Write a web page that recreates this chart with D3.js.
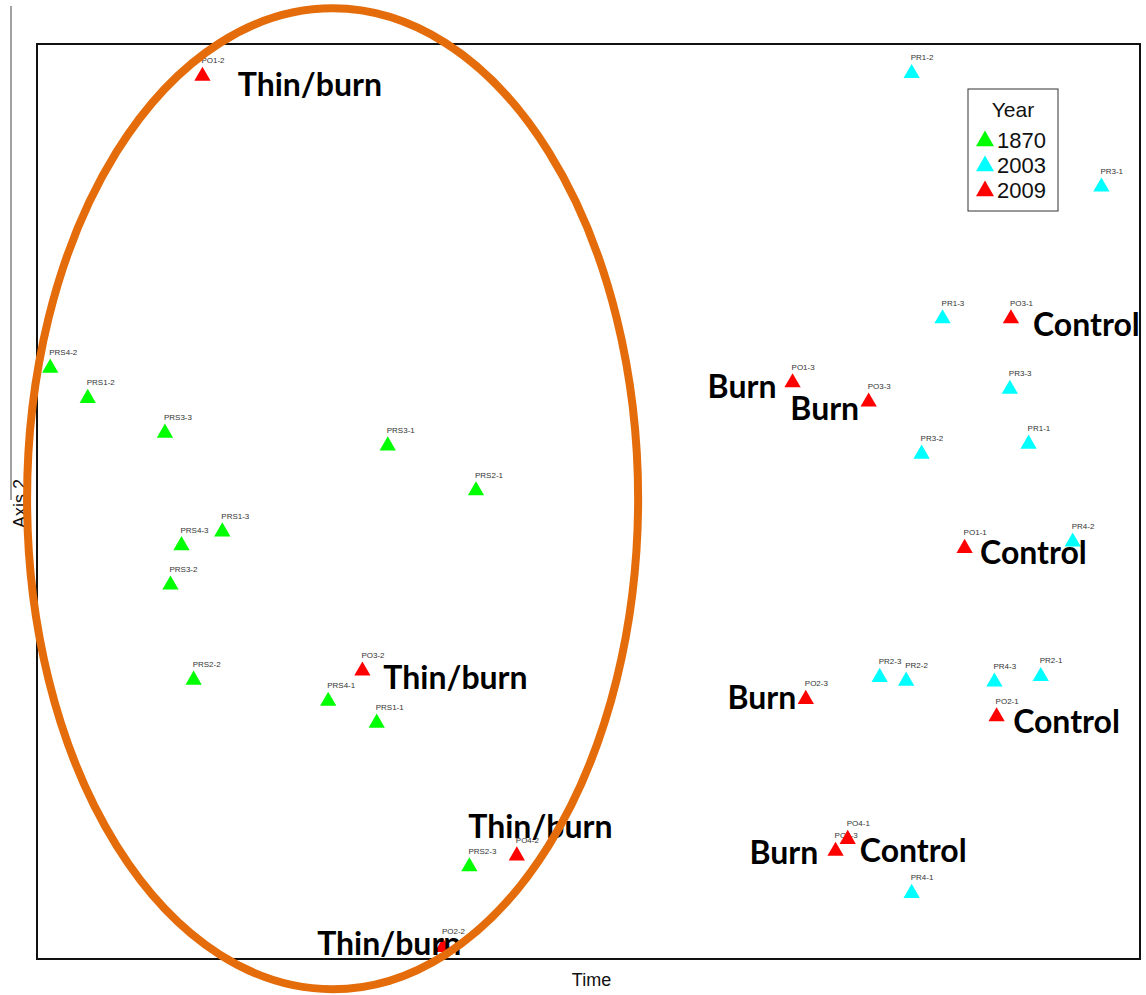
<!DOCTYPE html>
<html>
<head>
<meta charset="utf-8">
<script src="https://cdn.jsdelivr.net/npm/d3@7"></script>
<style>
  body { margin: 0; background: #fff; }
  svg { display: block; }
</style>
</head>
<body>
<div id="vis"></div>
<script>
// ordination scores, axis units 0..100
const years = ['1870', '2003', '2009'];
const yearColors = ['#00ff00', '#00ffff', '#ff0000'];

const names1870 = ['PRS4-2','PRS1-2','PRS3-3','PRS3-1','PRS2-1','PRS1-3','PRS4-3','PRS3-2','PRS2-2','PRS4-1','PRS1-1','PRS2-3'];
const x1870 = [1.2, 4.6, 11.6, 31.8, 39.8, 16.8, 13.1, 12.1, 14.2, 26.4, 30.8, 39.2];
const y1870 = [64.7, 61.4, 57.6, 56.2, 51.3, 46.8, 45.3, 41.0, 30.6, 28.3, 25.9, 10.2];

const names2003 = ['PR1-2','PR3-1','PR1-3','PR3-3','PR1-1','PR3-2','PR4-2','PR2-3','PR2-2','PR4-3','PR2-1','PR4-1'];
const x2003 = [79.3, 96.5, 82.1, 88.2, 89.9, 80.2, 93.9, 76.4, 78.8, 86.8, 91.0, 79.3];
const y2003 = [96.9, 84.5, 70.1, 62.4, 56.4, 55.3, 45.7, 30.9, 30.5, 30.4, 31.0, 7.3];

const names2009 = ['PO1-2','PO3-2','PO4-2','PO2-2','PO1-3','PO3-3','PO3-1','PO1-1','PO2-3','PO2-1','PO4-3','PO4-1'];
const x2009 = [15.0, 29.5, 43.5, 36.8, 68.5, 75.4, 88.3, 84.1, 69.7, 87.0, 72.4, 73.5];
const y2009 = [96.6, 31.6, 11.4, 1.4, 63.1, 61.0, 70.1, 45.0, 28.5, 26.6, 11.9, 13.2];

// treatment notes written onto the plot
const noteText = ['Thin/burn','Control','Burn','Burn','Control','Thin/burn','Burn','Control','Thin/burn','Burn','Control','Thin/burn'];
const noteX = [18.2, 90.3, 60.8, 68.3, 85.5, 31.4, 62.6, 88.5, 39.1, 64.6, 74.6, 25.4];
const noteY = [94.3, 68.1, 61.3, 58.9, 43.2, 29.5, 27.3, 24.7, 13.2, 10.4, 10.6, 0.4];

// hand drawn ring round the pre-settlement group
const ringCenter = [26.8, 50.3];
const ringRadius = [27.7, 53.6];

class Ordinationvis {
    constructor() {
        this.config = {
            width: 1146,
            height: 995,
            left: 37,
            top: 44,
            right: 1140,
            bottom: 959
        }
        this.initVis();
    }
    initVis() {
        let vis = this;
        vis.svg = d3.select('#vis')
        .append('svg')
        .attr('width', vis.config.width)
        .attr('height', vis.config.height);

        vis.x = d3.scaleLinear().domain([0, 100]).range([vis.config.left, vis.config.right]);
        vis.y = d3.scaleLinear().domain([0, 100]).range([vis.config.bottom, vis.config.top]);
    }
    updateVis() {
        let vis = this;
        vis.data = [];
        [[names1870, x1870, y1870], [names2003, x2003, y2003], [names2009, x2009, y2009]].forEach(function(s, i) {
            s[0].forEach(function(n, j) {
                vis.data.push({ name: n, x: s[1][j], y: s[2][j], year: years[i] });
            });
        });
        vis.notes = noteText.map(function(t, i) { return { text: t, x: noteX[i], y: noteY[i] }; });
        vis.renderVis();
    }
    renderVis() {
        let vis = this;
        const color = d3.scaleOrdinal().domain(years).range(yearColors);
        const tri = d3.symbol().type(d3.symbolTriangle).size(115);

        // stray left line
        vis.svg.append('line')
        .attr('x1', 11).attr('x2', 11)
        .attr('y1', 6).attr('y2', 500)
        .style('stroke', '#444')
        .style('stroke-width', 1);

        // frame
        vis.svg.append('rect')
        .attr('x', vis.x(0))
        .attr('y', vis.y(100))
        .attr('width', vis.x(100) - vis.x(0))
        .attr('height', vis.y(0) - vis.y(100))
        .style('fill', 'none')
        .style('stroke', '#111')
        .style('stroke-width', 2);

        vis.svg.append('text')
        .attr('x', (vis.x(0) + vis.x(100)) / 2 + 3)
        .attr('y', 986)
        .attr('text-anchor', 'middle')
        .style('font-family', 'Liberation Sans, Arial, sans-serif')
        .style('font-size', '18px')
        .style('fill', '#111')
        .text('Time');

        vis.svg.append('text')
        .attr('transform', 'translate(26,' + (vis.y(50) + 2) + ') rotate(-90)')
        .attr('text-anchor', 'middle')
        .style('font-family', 'Liberation Sans, Arial, sans-serif')
        .style('font-size', '18px')
        .style('fill', '#111')
        .text('Axis 2');

        const pts = vis.svg.selectAll('g.pt')
        .data(vis.data)
        .join('g')
        .attr('class', 'pt')
        .attr('transform', function(d) { return 'translate(' + vis.x(d.x) + ',' + vis.y(d.y) + ')'; });

        pts.append('path')
        .attr('d', tri)
        .attr('transform', 'translate(0,1)')
        .style('fill', function(d) { return color(d.year); });

        pts.append('text')
        .attr('x', -1)
        .attr('y', -12)
        .style('font-family', 'Liberation Sans, Arial, sans-serif')
        .style('font-size', '8px')
        .style('fill', '#333')
        .text(function(d) { return d.name; });

        vis.svg.selectAll('text.note')
        .data(vis.notes)
        .join('text')
        .attr('class', 'note')
        .attr('x', function(d) { return vis.x(d.x); })
        .attr('y', function(d) { return vis.y(d.y); })
        .style('font-family', 'Lato, "Open Sans", sans-serif')
        .style('font-weight', 'bold')
        .style('font-size', '32px')
        .style('fill', '#000')
        .text(function(d) { return d.text; });

        // legend
        const lg = vis.svg.append('g').attr('transform', 'translate(968,89)');
        lg.append('rect')
        .attr('width', 90).attr('height', 122)
        .style('fill', '#fff')
        .style('stroke', '#333')
        .style('stroke-width', 1);
        lg.append('text')
        .attr('x', 45).attr('y', 28)
        .attr('text-anchor', 'middle')
        .style('font-family', 'Liberation Sans, Arial, sans-serif')
        .style('font-size', '21px')
        .style('fill', '#111')
        .text('Year');
        const items = lg.selectAll('g.item')
        .data(years)
        .join('g')
        .attr('class', 'item')
        .attr('transform', function(d, i) { return 'translate(0,' + (58 + i * 25) + ')'; });
        items.append('path')
        .attr('d', d3.symbol().type(d3.symbolTriangle).size(140))
        .attr('transform', 'translate(17,-6)')
        .style('fill', function(d) { return color(d); });
        items.append('text')
        .attr('x', 29).attr('y', 1)
        .style('font-family', 'Liberation Sans, Arial, sans-serif')
        .style('font-size', '22px')
        .style('fill', '#111')
        .text(function(d) { return d; });

        // ring
        vis.svg.append('ellipse')
        .attr('cx', vis.x(ringCenter[0]))
        .attr('cy', vis.y(ringCenter[1]))
        .attr('rx', vis.x(ringRadius[0]) - vis.x(0))
        .attr('ry', vis.y(0) - vis.y(ringRadius[1]))
        .style('fill', 'none')
        .style('stroke', '#e46c0a')
        .style('stroke-width', 8);
    }
}

let vis = new Ordinationvis();
vis.updateVis();
</script>
</body>
</html>
